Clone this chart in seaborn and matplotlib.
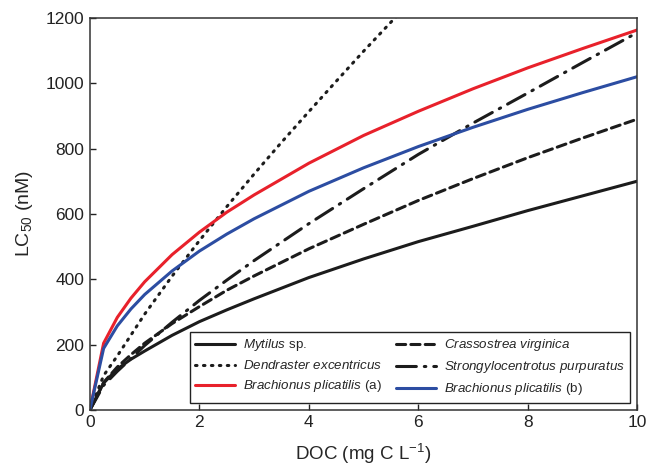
import numpy as np
import pandas as pd
import matplotlib
matplotlib.use('Agg')
import matplotlib.pyplot as plt
import seaborn as sns

sns.set_style('white')
plt.rcParams['font.family'] = ['Liberation Sans', 'DejaVu Sans']
plt.rcParams['mathtext.fontset'] = 'custom'
plt.rcParams['mathtext.rm'] = 'Liberation Sans'
plt.rcParams['mathtext.it'] = 'Liberation Sans:italic'

# values (DOC in mg C/L, LC50 in nM)
doc = [0, 0.25, 0.5, 0.75, 1, 1.5, 2, 2.5, 3, 4, 5, 6, 7, 8, 9, 10]
mytilus = [0, 82, 125, 155, 180, 228, 270, 306, 340, 405, 462, 515, 562, 610, 655, 700]
crassostrea = [0, 84, 131, 169, 204, 264, 316, 366, 410, 493, 568, 641, 708, 772, 832, 890]
strongylo = [0, 75, 118, 157, 197, 268, 335, 397, 457, 570, 677, 782, 878, 970, 1063, 1155]
brach_a = [0, 204, 283, 342, 392, 475, 544, 605, 658, 755, 840, 914, 983, 1047, 1106, 1163]
brach_b = [0, 188, 257, 309, 353, 425, 486, 538, 585, 669, 741, 806, 865, 920, 971, 1020]

doc_dend = [0, 0.25, 0.5, 1, 1.5, 2, 2.5, 3, 3.5, 4, 4.5, 5, 5.5, 6]
dendraster = [0, 105, 165, 293, 409, 518, 622, 722, 819, 913, 1006, 1098, 1187, 1275]

black = '#1c1c1c'
series = [
    ('$\\it{Mytilus}$ sp.', doc, mytilus, black, '-'),
    ('$\\it{Dendraster\\ excentricus}$', doc_dend, dendraster, black, (0, (0.5, 2.1))),
    ('$\\it{Brachionus\\ plicatilis}$ (a)', doc, brach_a, '#e8212b', '-'),
    ('$\\it{Crassostrea\\ virginica}$', doc, crassostrea, black, (0, (3.0, 1.7))),
    ('$\\it{Strongylocentrotus\\ purpuratus}$', doc, strongylo, black, (0, (6.5, 2.6, 0.5, 2.6))),
    ('$\\it{Brachionus\\ plicatilis}$ (b)', doc, brach_b, '#2c4da2', '-'),
]

fig = plt.figure(figsize=(6.47, 4.70), dpi=100)
ax = fig.add_axes([0.139, 0.128, 0.846, 0.834])

for name, x, y, c, ls in series:
    df = pd.DataFrame({'DOC': x, 'LC50': y})
    sns.lineplot(data=df, x='DOC', y='LC50', ax=ax, color=c, linewidth=2.2,
                 linestyle=ls, label=name, dash_capstyle='round')

ax.set_xlim(0, 10)
ax.set_ylim(0, 1200)
ax.set_xticks(range(0, 11, 2))
ax.set_yticks(range(0, 1201, 200))
ax.tick_params(direction='in', length=4, width=1, labelsize=12.5, colors='#222222',
               bottom=True, left=True, pad=4)
for sp in ax.spines.values():
    sp.set_color('#333333')
    sp.set_linewidth(1.1)

ax.set_xlabel('DOC (mg C L$^{-1}$)', fontsize=13.5, labelpad=8)
ax.set_ylabel('LC$_{50}$ (nM)', fontsize=14, labelpad=8)

leg = ax.legend(ncol=2, loc='lower right', fontsize=9.6, frameon=True, fancybox=False,
                edgecolor='#222222', framealpha=1, handlelength=3.0, columnspacing=1.0,
                borderaxespad=0.55, labelspacing=0.45, handletextpad=0.6)
leg.get_frame().set_linewidth(1.0)

fig.savefig('out.png', dpi=100)
